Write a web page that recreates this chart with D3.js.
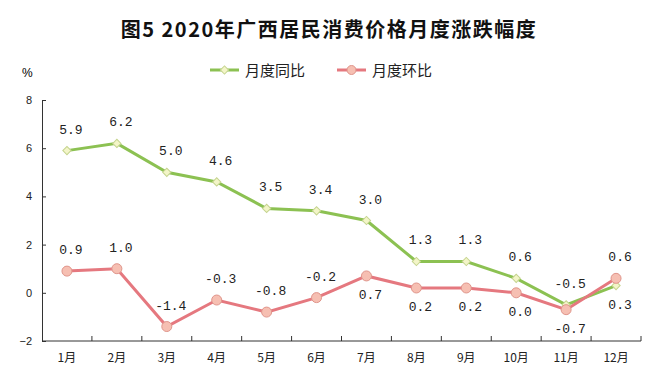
<!DOCTYPE html>
<html>
<head>
<meta charset="utf-8">
<script src="https://cdn.jsdelivr.net/npm/d3@7"></script>
<style>
  body { margin: 0; background: white; }
  svg { display: block; }
</style>
</head>
<body>
<div id="container"></div>
<script>
// chart data
let months = ['1月','2月','3月','4月','5月','6月','7月','8月','9月','10月','11月','12月'];
let yoy = [5.9, 6.2, 5.0, 4.6, 3.5, 3.4, 3.0, 1.3, 1.3, 0.6, -0.5, 0.3];   // 月度同比
let mom = [0.9, 1.0, -1.4, -0.3, -0.8, -0.2, 0.7, 0.2, 0.2, 0.0, -0.7, 0.6]; // 月度环比
let yoyPlace = ['t','t','t','t','t','t','t','t','t','t','t','b'];
let momPlace = ['t','t','t','t','t','t','b','b','b','b','b','t'];
let yTicks = [-2, 0, 2, 4, 6, 8];

let w = 651, h = 385;
let padL = 42, padR = 641, padT = 100, padB = 341;

let viz = d3.select('#container')
    .append('svg')
      .attr('width', w)
      .attr('height', h)
      .style('background', 'white');

let x = d3.scaleBand().domain(months).range([padL, padR]);
let y = d3.scaleLinear().domain([-2, 8]).range([padB, padT]);

let green = '#8cc152', red = '#e5787f';
// rotated square reads more like the original diamond
let diamond = d3.symbol().type(d3.symbolSquare).size(34);

function main() {
    // title
    viz.append('text')
        .attr('x', 329)
        .attr('y', 37)
        .attr('text-anchor', 'middle')
        .attr('font-family', 'Noto Sans CJK SC')
        .attr('font-weight', 'bold')
        .attr('font-size', 20)
        .attr('letter-spacing', 1.5)
        .attr('fill', '#111')
        .text('图5 2020年广西居民消费价格月度涨跌幅度');

    // unit
    viz.append('text')
        .attr('x', 22).attr('y', 77)
        .attr('font-family', 'Liberation Sans')
        .attr('font-size', 12)
        .text('%');

    // legend
    let legend = viz.append('g');
    let items = [
        {name: '月度同比', color: green, dia: true, fill: '#f3f5c8', stroke: '#c5d48f', x: 210},
        {name: '月度环比', color: red, dia: false, fill: '#f6bfb2', stroke: '#e0958b', x: 337}
    ];
    items.forEach(function(it) {
        legend.append('line')
            .attr('x1', it.x).attr('x2', it.x + 29)
            .attr('y1', 70).attr('y2', 70)
            .attr('stroke', it.color).attr('stroke-width', 3);
        if (it.dia) {
            legend.append('path')
                .attr('d', diamond())
                .attr('transform', 'translate(' + (it.x + 14.5) + ',70) rotate(45)')
                .attr('fill', it.fill).attr('stroke', it.stroke);
        } else {
            legend.append('circle')
                .attr('cx', it.x + 14.5).attr('cy', 70).attr('r', 4.5)
                .attr('fill', it.fill).attr('stroke', it.stroke);
        }
        legend.append('text')
            .attr('x', it.x + 35).attr('y', 76)
            .attr('font-family', 'Noto Sans CJK SC')
            .attr('font-size', 15)
            .attr('fill', '#222')
            .text(it.name);
    });

    // y axis
    let yAxis = d3.axisLeft(y)
        .tickValues(yTicks)
        .tickSizeInner(-4)
        .tickSizeOuter(0)
        .tickPadding(10);
    let ga = viz.append('g')
        .attr('transform', 'translate(' + padL + ',0)')
        .call(yAxis);
    ga.selectAll('text')
        .attr('font-family', 'Liberation Sans')
        .attr('font-size', 11)
        .attr('fill', '#222');
    ga.selectAll('line, path').attr('stroke', '#333');

    // x axis line and ticks at band edges
    let gx = viz.append('g');
    gx.append('line')
        .attr('x1', padL).attr('x2', padR)
        .attr('y1', padB).attr('y2', padB)
        .attr('stroke', '#333');
    gx.selectAll('.xt')
        .data(months)
        .enter().append('line')
        .attr('x1', d => x(d) + x.bandwidth())
        .attr('x2', d => x(d) + x.bandwidth())
        .attr('y1', padB).attr('y2', padB - 5)
        .attr('stroke', '#333');
    gx.selectAll('.xl')
        .data(months)
        .enter().append('text')
        .attr('x', d => x(d) + x.bandwidth() / 2)
        .attr('y', 362)
        .attr('text-anchor', 'middle')
        .attr('font-family', 'Noto Sans CJK SC')
        .attr('font-size', 12)
        .attr('fill', '#222')
        .text(d => d);

    let cx = (d, i) => x(months[i]) + x.bandwidth() / 2;
    let line = d3.line().x(cx).y(d => y(d));

    // lines
    viz.append('path').datum(yoy)
        .attr('d', line)
        .attr('fill', 'none')
        .attr('stroke', green)
        .attr('stroke-width', 3);
    viz.append('path').datum(mom)
        .attr('d', line)
        .attr('fill', 'none')
        .attr('stroke', red)
        .attr('stroke-width', 3);

    // markers
    viz.selectAll('.dia')
        .data(yoy)
        .enter().append('path')
        .attr('d', diamond())
        .attr('transform', (d, i) => 'translate(' + cx(d, i) + ',' + y(d) + ') rotate(45)')
        .attr('fill', '#f3f5c8')
        .attr('stroke', '#c5d48f');
    viz.selectAll('.dot')
        .data(mom)
        .enter().append('circle')
        .attr('cx', cx)
        .attr('cy', d => y(d))
        .attr('r', 5)
        .attr('fill', '#f6bfb2')
        .attr('stroke', '#e0958b');

    // value labels
    function labels(data, place) {
        viz.append('g')
            .attr('font-family', 'Liberation Mono')
            .attr('font-size', 13)
            .attr('fill', '#222')
            .selectAll('text')
            .data(data)
            .enter().append('text')
            .attr('x', (d, i) => cx(d, i) + 4)
            .attr('y', (d, i) => y(d) + (place[i] === 't' ? -17 : 23))
            .attr('text-anchor', 'middle')
            .text(d => d.toFixed(1));
    }
    labels(yoy, yoyPlace);
    labels(mom, momPlace);
}

main();
</script>
</body>
</html>
